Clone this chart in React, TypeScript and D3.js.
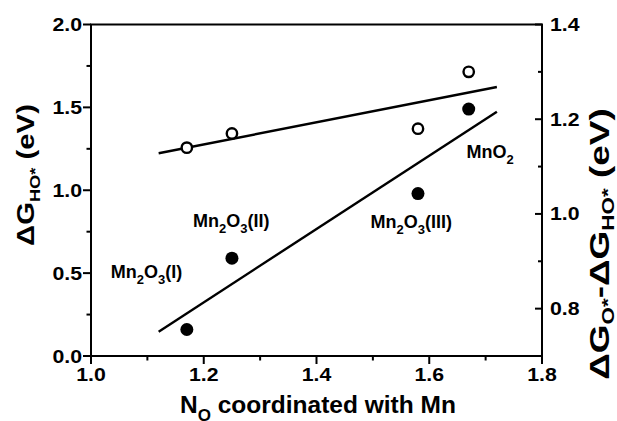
import React from "react";
import * as d3 from "d3";

// Data
const coordination = [1.17, 1.25, 1.58, 1.67];
const dG_HO = [0.16, 0.59, 0.98, 1.49]; // left axis, filled
const dG_diff = [1.14, 1.17, 1.18, 1.3]; // right axis, open
const fitRange = [1.12, 1.72];
const xTicks = [1.0, 1.2, 1.4, 1.6, 1.8];
const yLeftTicks = [0.0, 0.5, 1.0, 1.5, 2.0];
const yRightTicks = [0.8, 1.0, 1.2, 1.4];
const labelNames = ["Mn|2|O|3|(I)", "Mn|2|O|3|(II)", "Mn|2|O|3|(III)", "MnO|2|"];
const labelAnchorX = [1.035, 1.181, 1.496, 1.666];
const labelAnchorY = [0.47, 0.78, 0.77, 1.193];

const W = 617;
const H = 421;
const m = { left: 91, right: 542, top: 24.5, bottom: 356 };
const FONT = "'Liberation Sans', Arial, sans-serif";

function fit(xs: number[], ys: number[]) {
  const mx = d3.mean(xs)!;
  const my = d3.mean(ys)!;
  const sxy = d3.sum(xs.map((x, i) => (x - mx) * (ys[i] - my)));
  const sxx = d3.sum(xs.map((x) => (x - mx) * (x - mx)));
  const b = sxy / sxx;
  const a = my - b * mx;
  return (x: number) => a + b * x;
}

function Chem({ s, sub }: { s: string; sub: number }) {
  const parts = s.split("|");
  return (
    <>
      {parts.map((p, i) =>
        p === "" ? null : i % 2 === 1 ? (
          <tspan key={i} fontSize={sub} dy={6}>
            {p}
          </tspan>
        ) : (
          <tspan key={i} dy={i === 0 ? 0 : -6}>
            {p}
          </tspan>
        )
      )}
    </>
  );
}

export default function App() {
  const x = d3.scaleLinear().domain([1.0, 1.8]).range([m.left, m.right]);
  const yL = d3.scaleLinear().domain([0, 2.0]).range([m.bottom, m.top]);
  const yR = d3.scaleLinear().domain([0.7, 1.4]).range([m.bottom, m.top]);

  const fL = fit(coordination, dG_HO);
  const fR = fit(coordination, dG_diff);
  const lineL = d3
    .line<number>()
    .x((d) => x(d))
    .y((d) => yL(fL(d)));
  const lineR = d3
    .line<number>()
    .x((d) => x(d))
    .y((d) => yR(fR(d)));

  const xMinor = d3.range(1.1, 1.8, 0.2);
  const yLMinor = d3.range(0.25, 2.0, 0.5);
  const yRMinor = [0.9, 1.1, 1.3];
  const sw = 2;
  const tsx = 1.12;

  return (
    <svg width={W} height={H} style={{ position: "absolute", left: 0, top: 0 }} fontFamily={FONT} fontWeight="bold">
      <rect width={W} height={H} fill="#fff" />
      {/* frame */}
      <rect x={m.left} y={m.top} width={m.right - m.left} height={m.bottom - m.top} fill="none" stroke="#000" strokeWidth={sw} />
      {/* left ticks */}
      {yLeftTicks.map((t) => (
        <g key={"yl" + t}>
          <line x1={m.left - 8} x2={m.left} y1={yL(t)} y2={yL(t)} stroke="#000" strokeWidth={sw} />
          <text transform={`translate(${m.left - 9},${yL(t) + 6.5}) scale(${tsx},1)`} textAnchor="end" fontSize={19}>
            {t.toFixed(1)}
          </text>
        </g>
      ))}
      {yLMinor.map((t) => (
        <line key={"ylm" + t} x1={m.left - 4.5} x2={m.left} y1={yL(t)} y2={yL(t)} stroke="#000" strokeWidth={sw} />
      ))}
      {/* bottom ticks */}
      {xTicks.map((t) => (
        <g key={"x" + t}>
          <line x1={x(t)} x2={x(t)} y1={m.bottom} y2={m.bottom + 8} stroke="#000" strokeWidth={sw} />
          <text transform={`translate(${x(t)},${m.bottom + 25}) scale(${tsx},1)`} textAnchor="middle" fontSize={19}>
            {t.toFixed(1)}
          </text>
        </g>
      ))}
      {xMinor.map((t) => (
        <line key={"xm" + t} x1={x(t)} x2={x(t)} y1={m.bottom} y2={m.bottom + 4.5} stroke="#000" strokeWidth={sw} />
      ))}
      {/* right ticks (inward) */}
      {yRightTicks.map((t) => (
        <g key={"yr" + t}>
          <line x1={m.right - 7} x2={m.right} y1={yR(t)} y2={yR(t)} stroke="#000" strokeWidth={sw} />
          <text transform={`translate(${m.right + 8},${yR(t) + 6.5}) scale(${tsx},1)`} textAnchor="start" fontSize={19}>
            {t.toFixed(1)}
          </text>
        </g>
      ))}
      {yRMinor.map((t) => (
        <line key={"yrm" + t} x1={m.right - 4} x2={m.right} y1={yR(t)} y2={yR(t)} stroke="#000" strokeWidth={sw} />
      ))}

      {/* fit lines */}
      <path d={lineR(fitRange)!} fill="none" stroke="#000" strokeWidth={2.4} />
      <path d={lineL(fitRange)!} fill="none" stroke="#000" strokeWidth={2.4} />

      {/* points */}
      {coordination.map((c, i) => (
        <circle key={"f" + i} cx={x(c)} cy={yL(dG_HO[i])} r={6.5} fill="#000" />
      ))}
      {coordination.map((c, i) => (
        <circle key={"o" + i} cx={x(c)} cy={yR(dG_diff[i])} r={5.2} fill="#fff" stroke="#000" strokeWidth={2.4} />
      ))}

      {/* annotations */}
      {labelNames.map((s, i) => (
        <text key={"lab" + i} x={x(labelAnchorX[i])} y={yL(labelAnchorY[i])} fontSize={18}>
          <Chem s={s} sub={13} />
        </text>
      ))}

      {/* axis titles */}
      <g transform={`translate(34,175) rotate(-90) scale(1.22,1)`}>
        <text textAnchor="middle" fontSize={24}>
          ΔG<tspan fontSize={15} dy={6}>HO*</tspan>
          <tspan dy={-6}> (eV)</tspan>
        </text>
      </g>
      <g transform={`translate(609,244) rotate(-90) scale(1.32,1)`}>
        <text textAnchor="middle" fontSize={28}>
          ΔG<tspan fontSize={17} dy={5}>O*</tspan>
          <tspan dy={-5}>-ΔG</tspan>
          <tspan fontSize={17} dy={5}>HO*</tspan>
          <tspan dy={-5}> (eV)</tspan>
        </text>
      </g>
      <text x={180} y={413} fontSize={24.5}>
        N<tspan fontSize={17} dy={8}>O</tspan>
        <tspan dy={-8}> coordinated with Mn</tspan>
      </text>
    </svg>
  );
}
